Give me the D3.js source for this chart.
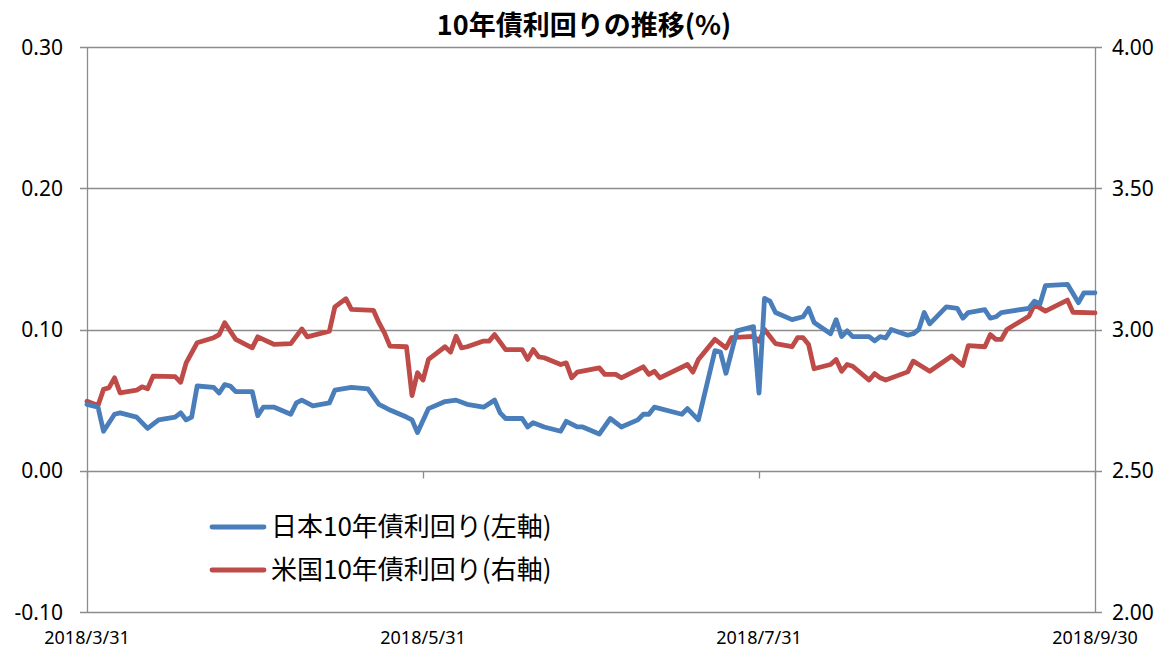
<!DOCTYPE html>
<html><head><meta charset="utf-8">
<script src="https://cdn.jsdelivr.net/npm/d3@7"></script>
<style>
body{margin:0;background:#fff;}
svg{display:block;}
text{font-family:"Noto Sans","Noto Sans CJK JP",sans-serif;fill:#000;}
</style></head>
<body>
<svg id="c" width="1167" height="650"></svg>
<script>
const title = "10年債利回りの推移(%)";
const seriesNames = ["日本10年債利回り(左軸)", "米国10年債利回り(右軸)"];
const xTickLabels = ["2018/3/31", "2018/5/31", "2018/7/31", "2018/9/30"];
const leftTicks = [-0.10, 0.00, 0.10, 0.20, 0.30];
const rightTicks = [2.00, 2.50, 3.00, 3.50, 4.00];

const jpDates = ["2018-03-31","2018-04-02","2018-04-03","2018-04-05","2018-04-06","2018-04-09","2018-04-11","2018-04-13","2018-04-16","2018-04-17","2018-04-18","2018-04-19","2018-04-20","2018-04-23","2018-04-24","2018-04-25","2018-04-26","2018-04-27","2018-04-30","2018-05-01","2018-05-02","2018-05-04","2018-05-07","2018-05-08","2018-05-09","2018-05-11","2018-05-14","2018-05-15","2018-05-18","2018-05-21","2018-05-23","2018-05-24","2018-05-25","2018-05-28","2018-05-29","2018-05-30","2018-06-01","2018-06-04","2018-06-06","2018-06-08","2018-06-11","2018-06-13","2018-06-14","2018-06-15","2018-06-18","2018-06-19","2018-06-20","2018-06-22","2018-06-25","2018-06-26","2018-06-28","2018-06-29","2018-07-02","2018-07-04","2018-07-06","2018-07-09","2018-07-10","2018-07-11","2018-07-12","2018-07-17","2018-07-18","2018-07-20","2018-07-23","2018-07-24","2018-07-25","2018-07-27","2018-07-30","2018-07-31","2018-08-01","2018-08-02","2018-08-03","2018-08-06","2018-08-08","2018-08-09","2018-08-10","2018-08-13","2018-08-14","2018-08-15","2018-08-16","2018-08-17","2018-08-20","2018-08-21","2018-08-22","2018-08-23","2018-08-24","2018-08-27","2018-08-28","2018-08-29","2018-08-30","2018-08-31","2018-09-03","2018-09-05","2018-09-06","2018-09-07","2018-09-10","2018-09-11","2018-09-12","2018-09-13","2018-09-18","2018-09-19","2018-09-20","2018-09-21","2018-09-25","2018-09-27","2018-09-28","2018-09-30"];
const jpValues = [0.047,0.045,0.028,0.040,0.041,0.038,0.030,0.036,0.038,0.041,0.036,0.038,0.060,0.059,0.055,0.061,0.060,0.056,0.056,0.039,0.045,0.045,0.040,0.048,0.050,0.046,0.048,0.057,0.059,0.058,0.047,0.045,0.043,0.038,0.036,0.027,0.044,0.049,0.050,0.047,0.045,0.050,0.041,0.037,0.037,0.031,0.034,0.031,0.028,0.035,0.031,0.031,0.026,0.037,0.031,0.036,0.040,0.040,0.045,0.040,0.044,0.036,0.085,0.084,0.069,0.099,0.102,0.055,0.122,0.120,0.112,0.107,0.109,0.115,0.105,0.097,0.107,0.095,0.099,0.095,0.095,0.092,0.095,0.094,0.100,0.096,0.097,0.100,0.112,0.104,0.116,0.115,0.108,0.112,0.114,0.108,0.109,0.112,0.115,0.120,0.118,0.131,0.132,0.119,0.126,0.126];

const usDates = ["2018-03-31","2018-04-02","2018-04-03","2018-04-04","2018-04-05","2018-04-06","2018-04-09","2018-04-10","2018-04-11","2018-04-12","2018-04-16","2018-04-17","2018-04-18","2018-04-20","2018-04-23","2018-04-24","2018-04-25","2018-04-27","2018-04-30","2018-05-01","2018-05-04","2018-05-07","2018-05-09","2018-05-10","2018-05-14","2018-05-15","2018-05-17","2018-05-18","2018-05-22","2018-05-23","2018-05-24","2018-05-25","2018-05-28","2018-05-29","2018-05-30","2018-05-31","2018-06-01","2018-06-04","2018-06-05","2018-06-06","2018-06-07","2018-06-08","2018-06-11","2018-06-12","2018-06-13","2018-06-15","2018-06-18","2018-06-19","2018-06-20","2018-06-21","2018-06-22","2018-06-25","2018-06-26","2018-06-27","2018-06-28","2018-07-02","2018-07-03","2018-07-05","2018-07-06","2018-07-10","2018-07-11","2018-07-12","2018-07-13","2018-07-18","2018-07-19","2018-07-20","2018-07-23","2018-07-25","2018-07-26","2018-07-30","2018-07-31","2018-08-01","2018-08-03","2018-08-06","2018-08-07","2018-08-08","2018-08-09","2018-08-10","2018-08-13","2018-08-14","2018-08-15","2018-08-16","2018-08-17","2018-08-20","2018-08-21","2018-08-22","2018-08-23","2018-08-27","2018-08-28","2018-08-29","2018-08-31","2018-09-04","2018-09-06","2018-09-07","2018-09-10","2018-09-11","2018-09-12","2018-09-13","2018-09-14","2018-09-18","2018-09-19","2018-09-21","2018-09-25","2018-09-26","2018-09-30"];
const usValues = [2.746,2.731,2.788,2.794,2.829,2.776,2.785,2.797,2.790,2.835,2.833,2.813,2.882,2.953,2.971,2.982,3.024,2.965,2.935,2.974,2.947,2.950,3.002,2.974,2.994,3.080,3.109,3.071,3.068,3.024,2.988,2.941,2.939,2.766,2.847,2.821,2.894,2.939,2.920,2.976,2.935,2.939,2.959,2.959,2.982,2.929,2.929,2.894,2.929,2.903,2.900,2.876,2.882,2.829,2.849,2.864,2.841,2.841,2.829,2.868,2.841,2.852,2.829,2.876,2.849,2.894,2.965,2.935,2.971,2.976,2.959,3.000,2.950,2.939,2.971,2.971,2.947,2.861,2.876,2.894,2.852,2.876,2.870,2.821,2.844,2.829,2.821,2.850,2.888,2.876,2.852,2.906,2.873,2.943,2.939,2.982,2.965,2.965,3.000,3.047,3.088,3.065,3.104,3.061,3.059];

const parse = d3.timeParse("%Y-%m-%d");
const jp = jpDates.map((d,i)=>({date:parse(d), v:jpValues[i]}));
const us = usDates.map((d,i)=>({date:parse(d), v:usValues[i]}));
const xTickDates = xTickLabels.map(s=>d3.timeParse("%Y/%m/%d")(s));

const L = 87, R = 1095, T = 47, B = 612;
const x = d3.scaleTime().domain([xTickDates[0], xTickDates[3]]).range([L, R]);
const yL = d3.scaleLinear().domain([-0.1, 0.3]).range([B, T]);
const yR = d3.scaleLinear().domain([2, 4]).range([B, T]);

const svg = d3.select("#c");
const gridColor = "#8c8c8c";

svg.append("g").selectAll("line").data(leftTicks).join("line")
  .attr("x1", L-7).attr("x2", R+7)
  .attr("y1", d=>Math.round(yL(d))+0.5).attr("y2", d=>Math.round(yL(d))+0.5)
  .attr("stroke", gridColor).attr("stroke-width", 1.3);

svg.append("line").attr("x1", L+0.5).attr("x2", L+0.5).attr("y1", T).attr("y2", B)
  .attr("stroke", gridColor).attr("stroke-width", 1.3);
svg.append("line").attr("x1", R+0.5).attr("x2", R+0.5).attr("y1", T).attr("y2", B)
  .attr("stroke", gridColor).attr("stroke-width", 1.3);

const y0 = Math.round(yL(0))+0.5;
svg.append("g").selectAll("line").data(xTickDates).join("line")
  .attr("x1", d=>Math.round(x(d))+0.5).attr("x2", d=>Math.round(x(d))+0.5)
  .attr("y1", y0).attr("y2", y0+7)
  .attr("stroke", gridColor).attr("stroke-width", 1.3);

const fmt = d => d3.format(".2f")(d).replace("−", "-");
svg.append("g").selectAll("text").data(leftTicks).join("text")
  .attr("x", 63).attr("y", d=>yL(d)).attr("dy", "0.36em")
  .attr("text-anchor", "end").attr("font-size", 21)
  .text(d=>fmt(d));
svg.append("g").selectAll("text").data(rightTicks).join("text")
  .attr("x", 1112).attr("y", d=>yR(d)).attr("dy", "0.36em")
  .attr("text-anchor", "start").attr("font-size", 21)
  .text(d=>fmt(d));
svg.append("g").selectAll("text").data(xTickDates).join("text")
  .attr("x", d=>x(d)).attr("y", 638).attr("dy", "0.36em")
  .attr("text-anchor", "middle").attr("font-size", 18)
  .text((d,i)=>xTickLabels[i]);

svg.append("text").attr("x", 584).attr("y", 25).attr("dy","0.36em")
  .attr("text-anchor","middle").attr("font-size", 27).attr("font-weight","bold")
  .style("font-family", '"Noto Sans CJK JP", sans-serif')
  .text(title);

const lineJP = d3.line().x(d=>x(d.date)).y(d=>yL(d.v));
const lineUS = d3.line().x(d=>x(d.date)).y(d=>yR(d.v));
const colors = ["#4a7ebb", "#be4b48"];
svg.append("path").datum(us).attr("d", lineUS).attr("fill","none")
  .attr("stroke", colors[1]).attr("stroke-width", 4.8).attr("stroke-linejoin","round").attr("stroke-linecap","round");
svg.append("path").datum(jp).attr("d", lineJP).attr("fill","none")
  .attr("stroke", colors[0]).attr("stroke-width", 4.8).attr("stroke-linejoin","round").attr("stroke-linecap","round");

const lg = svg.append("g");
seriesNames.forEach((name,i)=>{
  const yy = 527 + i*43;
  lg.append("line").attr("x1", 212).attr("x2", 264).attr("y1", yy).attr("y2", yy)
    .attr("stroke", colors[i]).attr("stroke-width", 4.8).attr("stroke-linecap","round");
  lg.append("text").attr("x", 271).attr("y", yy).attr("dy","0.36em")
    .attr("font-size", 26).style("font-family", '"Noto Sans CJK JP", sans-serif')
    .text(name);
});
</script>
</body></html>
